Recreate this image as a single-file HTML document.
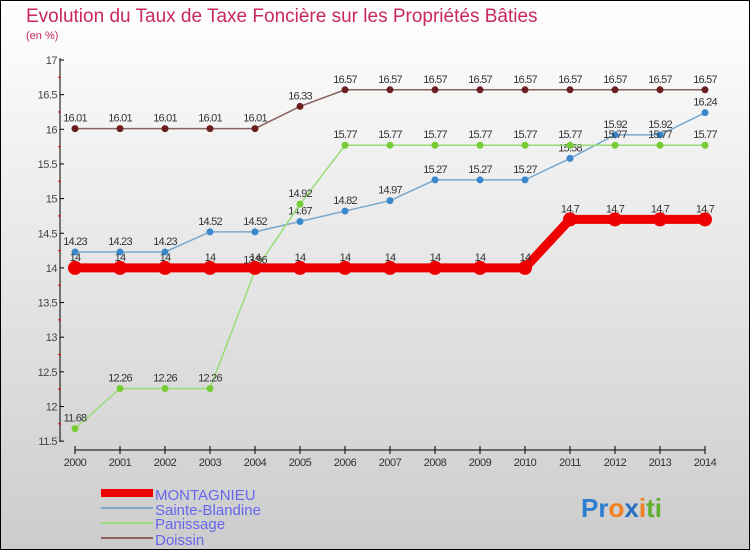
<!DOCTYPE html>
<html><head><meta charset="utf-8"><style>
body{margin:0;width:750px;height:550px;overflow:hidden;font-family:"Liberation Sans",sans-serif}
svg{display:block}
</style></head><body>
<svg id="chart" width="750" height="550" xmlns="http://www.w3.org/2000/svg">
<defs><linearGradient id="bg" x1="0" y1="0" x2="0" y2="1"><stop offset="0" stop-color="#ffffff"/><stop offset="1" stop-color="#cccccc"/></linearGradient></defs>
<rect x="0.5" y="0.5" width="749" height="549" fill="url(#bg)" stroke="#000"/>
<text x="26" y="22" font-size="19" fill="#c8285a">Evolution du Taux de Taxe Foncière sur les Propriétés Bâties</text>
<text x="26" y="39" font-size="11" fill="#c8285a">(en %)</text>
<g id="axes"></g>
<g id="series"></g>
<g>
<rect x="101" y="489" width="52" height="8" fill="#ee0000"/>
<text x="155" y="500" font-size="15" fill="#6666ee">MONTAGNIEU</text>
<line x1="101" y1="508" x2="153" y2="508" stroke="#7aa8cc" stroke-width="2"/>
<text x="155" y="515" font-size="15" fill="#6666ee">Sainte-Blandine</text>
<line x1="101" y1="523" x2="153" y2="523" stroke="#99dd77" stroke-width="2"/>
<text x="155" y="529" font-size="15" fill="#6666ee">Panissage</text>
<line x1="101" y1="538" x2="153" y2="538" stroke="#8a6060" stroke-width="2"/>
<text x="155" y="545" font-size="15" fill="#6666ee">Doissin</text>
</g>
<text x="581" y="517" font-size="26" font-weight="bold"><tspan fill="#2a7fd0">Pr</tspan><tspan fill="#f08020">o</tspan><tspan fill="#2a6fc0">x</tspan><tspan fill="#f08020">i</tspan><tspan fill="#60b030">ti</tspan></text>
</svg>
<script>
const years=[2000,2001,2002,2003,2004,2005,2006,2007,2008,2009,2010,2011,2012,2013,2014];
const montagnieu=[14,14,14,14,14,14,14,14,14,14,14,14.7,14.7,14.7,14.7];
const sainteBlandine=[14.23,14.23,14.23,14.52,14.52,14.67,14.82,14.97,15.27,15.27,15.27,15.58,15.92,15.92,16.24];
const panissage=[11.68,12.26,12.26,12.26,13.96,14.92,15.77,15.77,15.77,15.77,15.77,15.77,15.77,15.77,15.77];
const doissin=[16.01,16.01,16.01,16.01,16.01,16.33,16.57,16.57,16.57,16.57,16.57,16.57,16.57,16.57,16.57];
const yTicks=["11.5","12","12.5","13","13.5","14","14.5","15","15.5","16","16.5","17"];
const NS="http://www.w3.org/2000/svg";
const xS=i=>75+i*45;
const yS=v=>60+(17-v)*69.3;
function mk(tag,attrs,parent){const e=document.createElementNS(NS,tag);for(const k in attrs)e.setAttribute(k,attrs[k]);parent.appendChild(e);return e;}
const axes=document.getElementById('axes');
let a=mk('line',{x1:60,y1:58,x2:60,y2:442,stroke:'#000'},axes);


yTicks.forEach(t=>{const v=parseFloat(t),y=yS(v);
 mk('line',{x1:60,y1:y,x2:64,y2:y,stroke:'#000'},axes);
 const h=yS(v+0.25);if(v<17)mk('line',{x1:58,y1:h,x2:61,y2:h,stroke:'#e00'},axes);
 const tx=mk('text',{x:57,y:y+4,'font-size':11,fill:'#444','text-anchor':'end','letter-spacing':'-0.5'},axes);tx.textContent=t;
 
 
});
a=mk('line',{x1:75,y1:450,x2:705,y2:450,stroke:'#000'},axes);


years.forEach((yr,i)=>{const x=xS(i);mk('line',{x1:x,y1:446,x2:x,y2:454,stroke:'#000'},axes);
 const tx=mk('text',{x:x,y:466,'font-size':11,fill:'#333','text-anchor':'middle','letter-spacing':'-0.5'},axes);tx.textContent=yr;
 
 
});
const ser=document.getElementById('series');
function draw(name,data,color,dot,w,r){
 const g=mk('g',{},ser);
 
 
 const pl=mk('polyline',{points:data.map((v,i)=>xS(i)+','+yS(v)).join(' '),fill:'none',stroke:color,'stroke-width':w},g);
 
 
 data.forEach((v,i)=>{const c=mk('circle',{cx:xS(i),cy:yS(v),r:r,fill:dot},g);
  
  
  const t=mk('text',{x:xS(i),y:yS(v)-7,'font-size':11,fill:'#333','text-anchor':'middle','letter-spacing':'-0.8'},g);t.textContent=v;
  
  
 });
}
draw('doissin',doissin,'#8a6060','#6a2020',1.5,3.5);
draw('sainte-blandine',sainteBlandine,'#7aa8cc','#3a88cc',1.5,3.5);
draw('panissage',panissage,'#99dd77','#77cc33',1.5,3.5);
draw('montagnieu',montagnieu,'#ee0000','#ee0000',9,7);
</script>
</body></html>
